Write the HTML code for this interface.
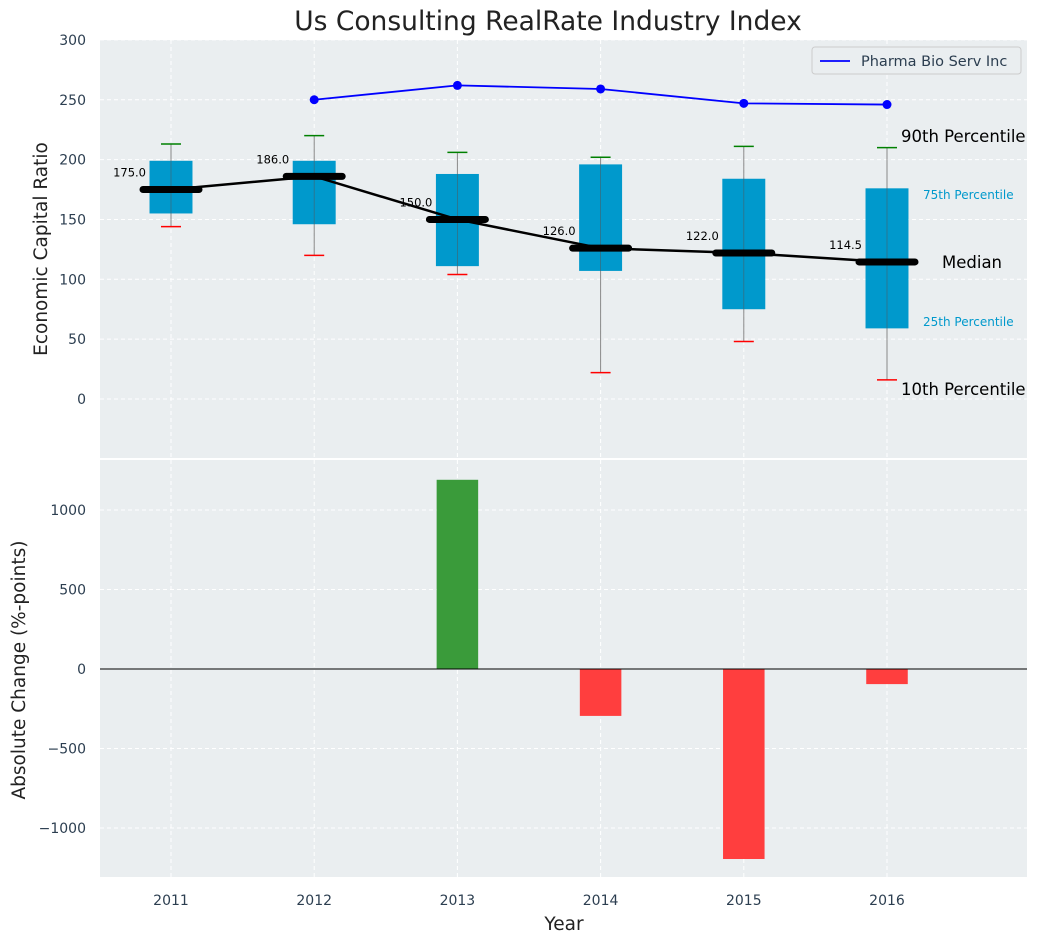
<!DOCTYPE html>
<html><head><meta charset="utf-8"><style>
body{margin:0;background:#fff;font-family:"Liberation Sans","DejaVu Sans",sans-serif}
svg text{font-family:"DejaVu Sans","Liberation Sans",sans-serif}
</style></head><body>
<svg id="chart" width="1039" height="942" xmlns="http://www.w3.org/2000/svg"></svg>
<script>
const years=[2011,2012,2013,2014,2015,2016];
const p10=[144,120,104,22,48,16];
const p25=[155,146,111,107,75,59];
const med=[175,186,150,126,122,114.5];
const p75=[199,199,188,196,184,176];
const p90=[213,220,206,202,211,210];
const companyYears=[2012,2013,2014,2015,2016];
const companyVals=[250,262,259,247,246];
const changeVals=[0,0,1190,-295,-1195,-95];
const topTicks=[0,50,100,150,200,250,300];
const botTicks=[-1000,-500,0,500,1000];

const NS="http://www.w3.org/2000/svg";
const svg=document.getElementById('chart');
function el(t,a,txt){const e=document.createElementNS(NS,t);for(const k in a)e.setAttribute(k,a[k]);if(txt!==undefined)e.textContent=txt;svg.appendChild(e);return e;}
const L=100,R=1027;
const x=v=>171+(v-2011)*143.2;
const yT=v=>399-v*1.197;
const yB=v=>669-v*0.159;

let e=el('rect',{x:L,y:40,width:R-L,height:418,fill:'#eaeef0'});

e=el('rect',{x:L,y:460,width:R-L,height:417,fill:'#eaeef0'});


topTicks.forEach(t=>{el('line',{x1:L,x2:R,y1:yT(t),y2:yT(t),stroke:'#fff','stroke-dasharray':'4,3'});
 e=el('text',{x:86,y:yT(t)+5,'text-anchor':'end','font-size':14,fill:'#2c3e50'},t);
 });
botTicks.forEach(t=>{el('line',{x1:L,x2:R,y1:yB(t),y2:yB(t),stroke:'#fff','stroke-dasharray':'4,3'});
 e=el('text',{x:86,y:yB(t)+5,'text-anchor':'end','font-size':14,fill:'#2c3e50'},t<0?'\u2212'+(-t):t);
 });
years.forEach(yr=>{el('line',{x1:x(yr),x2:x(yr),y1:40,y2:458,stroke:'#fff','stroke-dasharray':'4,3'});
 el('line',{x1:x(yr),x2:x(yr),y1:460,y2:877,stroke:'#fff','stroke-dasharray':'4,3'});
 e=el('text',{x:x(yr),y:905,'text-anchor':'middle','font-size':14,fill:'#2c3e50'},yr);
 });

const bw=0.3*143.2;
years.forEach((yr,i)=>{
 const cx=x(yr);
 el('line',{x1:cx,x2:cx,y1:yT(p10[i]),y2:yT(p90[i]),stroke:'#888','stroke-width':1});
 e=el('rect',{x:cx-bw/2,y:yT(p75[i]),width:bw,height:yT(p25[i])-yT(p75[i]),fill:'#0099cc'});
 
 el('line',{x1:cx,x2:cx,y1:yT(p75[i]),y2:yT(p25[i]),stroke:'#555','stroke-width':0.8,opacity:0.6});
 el('line',{x1:cx-10,x2:cx+10,y1:yT(p90[i]),y2:yT(p90[i]),stroke:'green','stroke-width':1.5});
 el('line',{x1:cx-10,x2:cx+10,y1:yT(p10[i]),y2:yT(p10[i]),stroke:'red','stroke-width':1.5});
});
el('polyline',{points:years.map((yr,i)=>x(yr)+','+yT(med[i])).join(' '),fill:'none',stroke:'#000','stroke-width':2.5});
years.forEach((yr,i)=>{const cx=x(yr);
 e=el('line',{x1:cx-28,x2:cx+28,y1:yT(med[i]),y2:yT(med[i]),stroke:'#000','stroke-width':7,'stroke-linecap':'round'});
 
 e=el('text',{x:cx-25,y:yT(med[i])-13,'text-anchor':'end','font-size':11.5,fill:'#000'},med[i].toFixed(1));
 });
el('polyline',{points:companyYears.map((yr,i)=>x(yr)+','+yT(companyVals[i])).join(' '),fill:'none',stroke:'#0000ff','stroke-width':1.8});
companyYears.forEach((yr,i)=>{e=el('circle',{cx:x(yr),cy:yT(companyVals[i]),r:4.5,fill:'#0000ff'});
 });
const lx=x(2016);
[['90th Percentile',lx+14,142,16.5,'#000'],['75th Percentile',lx+36,199,12,'#0099cc'],['Median',lx+55,268,16.5,'#000'],['25th Percentile',lx+36,326,12,'#0099cc'],['10th Percentile',lx+14,395,16.5,'#000']].forEach(a=>{
 e=el('text',{x:a[1],y:a[2],'font-size':a[3],fill:a[4]},a[0]);});
e=el('rect',{x:812,y:47,width:209,height:27,fill:'#eaeef0',stroke:'#ccc',rx:3});

el('line',{x1:820,x2:850,y1:61,y2:61,stroke:'#0000ff','stroke-width':1.8});
e=el('text',{x:861,y:66,'font-size':14.5,fill:'#2c3e50'},'Pharma Bio Serv Inc');


const bbw=0.29*143.2;
years.forEach((yr,i)=>{const v=changeVals[i];if(!v)return;
 e=el('rect',{x:x(yr)-bbw/2,y:Math.min(yB(v),yB(0)),width:bbw,height:Math.abs(yB(v)-yB(0)),fill:v>0?'#3a9b3a':'#ff3e3e'});
 });
el('line',{x1:L,x2:R,y1:yB(0),y2:yB(0),stroke:'#000','stroke-width':1});

e=el('text',{x:548,y:30,'text-anchor':'middle','font-size':26.5,fill:'#222'},'Us Consulting RealRate Industry Index');

e=el('text',{x:0,y:0,'text-anchor':'middle','font-size':18.5,fill:'#222',transform:'translate(47,249) rotate(-90)'},'Economic Capital Ratio');

e=el('text',{x:0,y:0,'text-anchor':'middle','font-size':18.5,fill:'#222',transform:'translate(25,670) rotate(-90)'},'Absolute Change (%-points)');

e=el('text',{x:564,y:930,'text-anchor':'middle','font-size':18.5,fill:'#222'},'Year');

</script>
</body></html>
